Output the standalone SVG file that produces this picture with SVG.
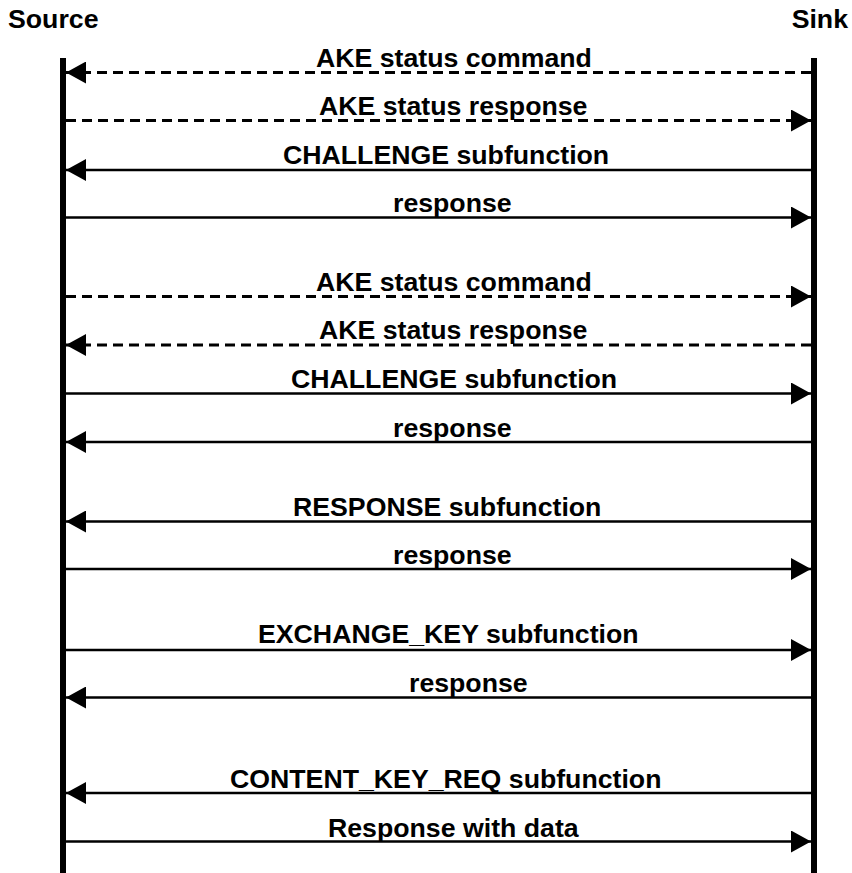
<svg xmlns="http://www.w3.org/2000/svg" width="852" height="873" viewBox="0 0 852 873">
  <defs>
    <style>
      .lifeline { stroke: #000; stroke-width: 6; }
      .msg { stroke: #000; stroke-width: 2.5; fill: none; marker-end: url(#head); }
      .dash { stroke-width: 3; stroke-dasharray: 10 6; }
      .label { font-family: "Liberation Sans", Arial, sans-serif; font-weight: bold; font-size: 26.7px; fill: #000; }
    </style>
    <marker id="head" markerUnits="userSpaceOnUse" markerWidth="20" markerHeight="22" refX="20" refY="11" orient="auto">
      <path d="M0,0 L20,11 L0,22 z" fill="#000"/>
    </marker>
  </defs>
  <rect width="852" height="873" fill="#fff"/>

  <!-- participants -->
  <g id="source">
    <text class="label" x="8" y="28">Source</text>
    <line class="lifeline" x1="63" y1="58" x2="63" y2="873"/>
  </g>
  <g id="sink">
    <text class="label" x="848" y="28" text-anchor="end">Sink</text>
    <line class="lifeline" x1="814" y1="58" x2="814" y2="873"/>
  </g>

  <!-- messages -->
  <g id="connectors">
    <line class="msg dash" x1="811" y1="72.5" x2="66" y2="72.5"/>
    <line class="msg dash" x1="66" y1="120.5" x2="811" y2="120.5"/>
    <line class="msg" x1="811" y1="170" x2="66" y2="170"/>
    <line class="msg" x1="66" y1="217.5" x2="811" y2="217.5"/>
    <line class="msg dash" x1="66" y1="296.5" x2="811" y2="296.5"/>
    <line class="msg dash" x1="811" y1="345" x2="66" y2="345"/>
    <line class="msg" x1="66" y1="393.5" x2="811" y2="393.5"/>
    <line class="msg" x1="811" y1="442" x2="66" y2="442"/>
    <line class="msg" x1="811" y1="521.5" x2="66" y2="521.5"/>
    <line class="msg" x1="66" y1="569" x2="811" y2="569"/>
    <line class="msg" x1="66" y1="650" x2="811" y2="650"/>
    <line class="msg" x1="811" y1="697.5" x2="66" y2="697.5"/>
    <line class="msg" x1="811" y1="793" x2="66" y2="793"/>
    <line class="msg" x1="66" y1="841.5" x2="811" y2="841.5"/>
  </g>

  <!-- message labels -->
  <g id="labels">
    <text class="label" x="316" y="66.5">AKE status command</text>
    <text class="label" x="319" y="115">AKE status response</text>
    <text class="label" x="283" y="164">CHALLENGE subfunction</text>
    <text class="label" x="393" y="211.5">response</text>
    <text class="label" x="316" y="290.5">AKE status command</text>
    <text class="label" x="319" y="338.5">AKE status response</text>
    <text class="label" x="291" y="388">CHALLENGE subfunction</text>
    <text class="label" x="393" y="436.5">response</text>
    <text class="label" x="293" y="516">RESPONSE subfunction</text>
    <text class="label" x="393" y="564">response</text>
    <text class="label" x="258" y="643">EXCHANGE_KEY subfunction</text>
    <text class="label" x="409" y="691.5">response</text>
    <text class="label" x="230" y="787.5">CONTENT_KEY_REQ subfunction</text>
    <text class="label" x="328" y="836.5">Response with data</text>
  </g>
</svg>
